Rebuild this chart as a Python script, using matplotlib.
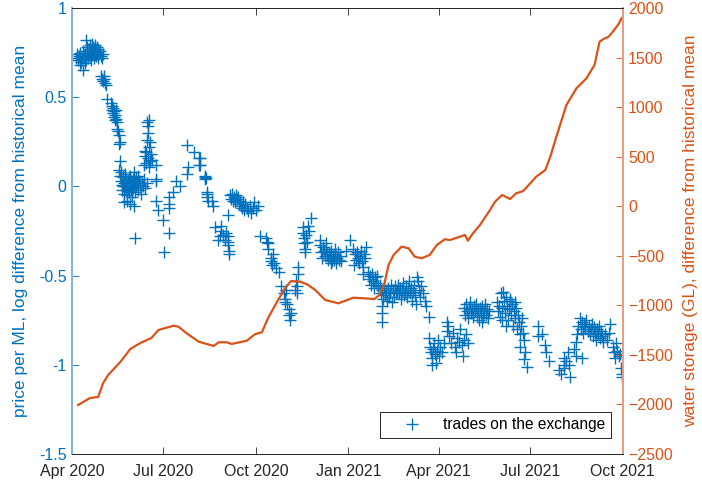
import numpy as np
import matplotlib
matplotlib.use("Agg")
import matplotlib.pyplot as plt
import matplotlib.dates as mdates

plt.rcParams['font.family'] = ['Liberation Sans', 'DejaVu Sans']

BLUE = '#0072BD'
ORANGE = '#D95319'
AXC = '#262626'

start = np.datetime64('2020-04-01')

# trades: days since 1 Apr 2020 and price (log difference from historical mean)
trade_day = [
    4, 5, 6, 7, 8, 9, 10, 11, 12, 13, 14, 14, 15, 15, 16, 17, 17, 18, 18, 19, 19, 20, 20, 21, 21, 22, 22,
    23, 23, 24, 24, 25, 25, 26, 26, 27, 28, 29, 11, 8, 13, 30, 31,
    29, 30, 31, 32, 33, 34, 32, 35,
    39, 40, 40, 41, 41, 42, 42, 43, 43, 44, 44, 45,
    45, 46, 47, 47, 48, 48,
    47, 48, 49, 49, 50, 50, 51, 51, 52, 52, 53, 53, 54, 54, 55, 55, 56, 56, 57, 57, 58, 58, 59, 59, 60, 60,
    61, 61, 62, 62, 63, 63, 64, 64, 65, 66, 66, 67, 68, 69, 70, 71, 72, 73, 75, 52, 55, 62, 58, 63,
    75, 76, 77, 76, 75, 77, 74, 73, 76, 78, 74, 77, 79, 80, 72, 73, 78,
    84, 84, 84, 84, 86, 91, 97, 92, 97, 97, 97, 100, 103, 107,
    114, 114, 121, 126, 126, 115, 132, 133, 134, 135,
    127, 127, 132, 132, 134, 134, 139, 140,
    157, 158, 159, 160, 161, 162, 163, 164, 166, 167, 168, 170, 171, 172, 174, 175, 177, 178, 180, 181,
    183, 185, 165, 169, 155,
    142, 148, 148, 147, 155, 155, 155, 156, 156, 150, 152, 153, 145,
    187, 193, 194, 195, 195, 198, 198, 199, 201, 206, 203, 200,
    208, 211, 212, 212, 216, 216, 217, 214, 218, 213,
    223, 224, 224, 225, 225, 222,
    230, 230, 231, 231, 232, 232, 235, 238, 233, 236, 234,
    247, 247, 248, 250, 251, 252, 253, 254, 255, 256, 257, 258, 259, 260, 261, 262, 263, 264, 265, 266,
    267, 268, 249, 253, 258, 262,
    277, 273, 280, 282, 283, 284, 285, 286, 287, 288, 289, 290, 291, 292, 293, 281, 290,
    295, 296, 297, 298, 299, 300, 301, 302, 303, 304, 305,
    306, 307, 308, 309, 310, 311, 312, 313, 314, 315, 316, 317, 318, 319, 320, 321, 322, 323,
    308, 308, 308,
    324, 325, 326, 327, 328, 329, 330, 331, 332, 333, 334, 335, 336, 337, 338, 339, 340, 341, 343, 344,
    345, 346, 347, 349, 351, 352, 342, 355,
    355, 356, 357, 358, 359, 360, 361, 362, 363, 364, 365, 366, 368, 370, 358,
    373, 373, 374,
    375, 377, 379, 381, 383, 385, 386, 388, 389, 390, 392, 394, 382,
    390, 391, 392, 393, 394, 395, 396, 397, 398, 399, 400, 401, 402, 403, 404, 405, 406, 407, 408, 409,
    410, 411, 412, 413, 414, 415, 408,
    423, 424, 425, 426, 427, 428, 429, 430, 431, 432, 433, 434, 435, 436, 437, 438, 439, 440, 441, 442,
    443, 444, 445, 446, 447, 448, 449, 450, 446, 451, 450, 453, 436, 441, 432, 428,
    464, 464, 468, 471, 472, 475,
    485, 490, 490, 490, 495, 496, 494, 500, 502, 508, 502, 503, 487, 492,
    504, 506, 507, 508, 509, 510, 511, 512, 513, 514, 515, 516, 517, 518, 519, 520, 521, 522, 523, 524,
    525, 526, 527, 528, 530, 532, 534, 535,
    538, 539, 540, 541, 542, 544, 546, 547, 547, 545,
]
trade_price = [
    0.72, 0.74, 0.71, 0.73, 0.75, 0.70, 0.72, 0.76, 0.73, 0.74, 0.82, 0.71, 0.75, 0.78, 0.72, 0.74, 0.77,
    0.73, 0.79, 0.76, 0.71, 0.74, 0.80, 0.75, 0.78, 0.72, 0.77, 0.74, 0.79, 0.76, 0.73, 0.78, 0.75, 0.72,
    0.77, 0.74, 0.76, 0.73, 0.65, 0.68, 0.69, 0.72, 0.74,
    0.62, 0.60, 0.59, 0.62, 0.58, 0.57, 0.60, 0.49,
    0.47, 0.45, 0.43, 0.44, 0.41, 0.42, 0.39, 0.40, 0.37, 0.38, 0.43, 0.36,
    0.32, 0.31, 0.29, 0.24, 0.25, 0.14,
    0.09, 0.06, 0.03, 0.08, 0.01, -0.02, 0.05, 0.00, 0.02, -0.04, 0.07, 0.00, -0.02, 0.04, 0.01, -0.05,
    0.03, -0.01, 0.05, -0.03, 0.00, 0.06, -0.02, 0.03, 0.01, -0.06,
    0.04, -0.01, 0.02, 0.08, -0.03, 0.03, 0.05, 0.00, 0.02, -0.02, 0.06, 0.03, 0.01, -0.04, 0.02, 0.00,
    0.04, -0.01, 0.02, -0.09, -0.08, -0.11, -0.10, -0.29,
    0.36, 0.34, 0.37, 0.30, 0.26, 0.22, 0.19, 0.17, 0.16, 0.14, 0.13, 0.11, 0.18, 0.15, 0.12, 0.20, 0.25,
    0.12, 0.04, 0.03, -0.08, -0.13, -0.19, -0.26, -0.37, -0.06, -0.10, -0.12, -0.03, 0.03, 0.00,
    0.07, 0.23, 0.19, 0.16, 0.12, 0.11, 0.055, 0.045, -0.04, -0.08,
    0.16, 0.12, 0.06, 0.04, -0.03, -0.06, -0.08, -0.11,
    -0.05, -0.07, -0.04, -0.08, -0.06, -0.09, -0.05, -0.07, -0.10, -0.08, -0.11, -0.09, -0.13, -0.10,
    -0.12, -0.14, -0.11, -0.15, -0.12, -0.09, -0.13, -0.11, -0.06, -0.12, -0.16,
    -0.23, -0.22, -0.25, -0.28, -0.28, -0.31, -0.33, -0.36, -0.38, -0.27, -0.30, -0.26, -0.30,
    -0.28, -0.29, -0.31, -0.32, -0.35, -0.40, -0.42, -0.44, -0.43, -0.48, -0.46, -0.38,
    -0.56, -0.60, -0.63, -0.65, -0.69, -0.72, -0.75, -0.66, -0.71, -0.58,
    -0.53, -0.56, -0.60, -0.45, -0.49, -0.58,
    -0.23, -0.26, -0.29, -0.32, -0.35, -0.37, -0.22, -0.18, -0.27, -0.25, -0.31,
    -0.30, -0.33, -0.37, -0.34, -0.36, -0.39, -0.35, -0.38, -0.41, -0.37, -0.40, -0.36, -0.42, -0.39,
    -0.41, -0.38, -0.43, -0.40, -0.37, -0.41, -0.39, -0.42, -0.40, -0.32, -0.43, -0.35,
    -0.30, -0.36, -0.35, -0.38, -0.41, -0.37, -0.40, -0.43, -0.39, -0.36, -0.42, -0.45, -0.38, -0.40,
    -0.34, -0.44, -0.49,
    -0.48, -0.52, -0.50, -0.55, -0.49, -0.53, -0.57, -0.51, -0.54, -0.50, -0.56,
    -0.55, -0.60, -0.58, -0.63, -0.56, -0.61, -0.59, -0.64, -0.57, -0.62, -0.60, -0.55, -0.65, -0.58,
    -0.62, -0.56, -0.60, -0.59,
    -0.67, -0.71, -0.76,
    -0.55, -0.60, -0.57, -0.63, -0.58, -0.54, -0.61, -0.59, -0.56, -0.62, -0.58, -0.53, -0.60, -0.57,
    -0.64, -0.59, -0.55, -0.61, -0.51, -0.53, -0.58, -0.62, -0.56, -0.60, -0.64, -0.67, -0.66, -0.73,
    -0.85, -0.90, -0.93, -0.96, -0.91, -0.88, -0.94, -0.99, -0.92, -0.86, -0.95, -0.90, -0.93, -0.88, -1.00,
    -0.76, -0.81, -0.78,
    -0.84, -0.88, -0.82, -0.90, -0.85, -0.87, -0.80, -0.89, -0.95, -0.86, -0.83, -0.88, -0.93,
    -0.68, -0.72, -0.66, -0.70, -0.74, -0.68, -0.65, -0.71, -0.69, -0.73, -0.67, -0.70, -0.66, -0.72,
    -0.69, -0.75, -0.68, -0.71, -0.67, -0.73, -0.70, -0.66, -0.72, -0.69, -0.74, -0.70, -0.76,
    -0.65, -0.70, -0.67, -0.73, -0.60, -0.68, -0.59, -0.64, -0.71, -0.62, -0.67, -0.75, -0.69, -0.64,
    -0.72, -0.66, -0.78, -0.70, -0.74, -0.68, -0.80, -0.72, -0.76, -0.83, -0.78, -0.74, -0.82, -0.86,
    -0.90, -0.93, -0.97, -1.01, -0.63, -0.65, -0.78, -0.75,
    -0.78, -0.84, -0.83, -0.89, -0.93, -0.98,
    -1.03, -0.96, -1.00, -1.02, -1.00, -1.07, -0.93, -0.91, -0.95, -0.96, -0.87, -0.83, -1.05, -0.98,
    -0.78, -0.74, -0.80, -0.76, -0.82, -0.77, -0.79, -0.75, -0.81, -0.78, -0.83, -0.80, -0.77, -0.84,
    -0.79, -0.82, -0.86, -0.80, -0.83, -0.78, -0.85, -0.81, -0.84, -0.87, -0.83, -0.86, -0.82, -0.77,
    -0.90, -0.93, -0.96, -0.88, -0.92, -0.95, -1.02, -1.05, -1.07, -0.94,
]

# water storage: days since 1 Apr 2020 and GL difference from historical mean
storage_day = [
    6, 18, 26, 31, 36, 48, 58, 68, 79, 86, 101, 106, 114, 126, 141, 146, 154, 159, 174, 182, 189,
    195, 205, 212, 218, 227, 234, 242, 252, 265, 280, 301, 306, 311, 315, 320, 328, 335, 341, 348,
    356, 363, 371, 376, 386, 391, 394, 399, 406, 416, 421, 428, 436, 442, 449, 462, 471, 476, 482,
    492, 502, 512, 520, 525, 529, 534, 539, 544, 547,
]
storage_gl = [
    -2006, -1935, -1925, -1784, -1703, -1572, -1441, -1380, -1330, -1249, -1206, -1216, -1282, -1367,
    -1410, -1373, -1373, -1390, -1357, -1292, -1272, -1131, -946, -828, -755, -762, -788, -845, -946,
    -980, -923, -936, -896, -778, -593, -492, -408, -425, -509, -525, -492, -391, -334, -341, -308,
    -290, -348, -273, -190, -38, 46, 113, 73, 130, 153, 298, 365, 500, 701, 1021, 1190, 1291, 1425,
    1660, 1687, 1710, 1771, 1839, 1899,
]

x_ticks = ['2020-04-01', '2020-07-01', '2020-10-01', '2021-01-01', '2021-04-01', '2021-07-01', '2021-10-01']
x_tick_labels = ['Apr 2020', 'Jul 2020', 'Oct 2020', 'Jan 2021', 'Apr 2021', 'Jul 2021', 'Oct 2021']

trade_dates = start + np.array(trade_day).astype('timedelta64[D]')
storage_dates = start + np.array(storage_day).astype('timedelta64[D]')

fig = plt.figure(figsize=(7.02, 4.87), dpi=100)
ax = fig.add_axes([0.1026, 0.0678, 0.7844, 0.9158])
ax2 = ax.twinx()

ax.plot(trade_dates, trade_price, linestyle='none', marker='+', markersize=8,
        markeredgewidth=1.0, color=BLUE, label='trades on the exchange')
ax2.plot(storage_dates, storage_gl, color=ORANGE, linewidth=1.6)

ax.set_xlim(np.datetime64('2020-04-01'), np.datetime64('2021-10-01'))
ax.set_ylim(-1.5, 1)
ax2.set_ylim(-2500, 2000)

ax.set_xticks(np.array(x_ticks, dtype='datetime64[D]'))
ax.set_xticklabels(x_tick_labels)
ax.set_yticks([-1.5, -1, -0.5, 0, 0.5, 1])
ax.set_yticklabels(['-1.5', '-1', '-0.5', '0', '0.5', '1'])
ax2.set_yticks(np.arange(-2500, 2001, 500))

ax.tick_params(axis='x', direction='in', top=True, colors=AXC, labelsize=11.5, length=5, width=0.6, pad=7)
ax.tick_params(axis='y', direction='in', colors=BLUE, labelsize=11.5, length=5, width=0.6, pad=4)
ax2.tick_params(axis='y', direction='in', colors=ORANGE, labelsize=11.5, length=5, width=0.6, pad=4)

for a in (ax, ax2):
    a.spines['top'].set_color(AXC)
    a.spines['bottom'].set_color(AXC)
    a.spines['top'].set_linewidth(0.7)
    a.spines['bottom'].set_linewidth(0.7)
    a.spines['left'].set_color('#7fb4dc')
    a.spines['right'].set_color('#ec9c7a')
    a.spines['left'].set_linewidth(1.4)
    a.spines['right'].set_linewidth(1.4)

ax.set_ylabel('price per ML, log difference from historical mean', color=BLUE, fontsize=12.5, labelpad=8)
ax2.set_ylabel('water storage (GL), difference from historical mean', color=ORANGE, fontsize=12.5, labelpad=7)

leg = ax.legend(loc='lower right', bbox_to_anchor=(0.979, 0.036), fontsize=11.2, frameon=True,
                fancybox=False, edgecolor=AXC, framealpha=1, borderpad=0.35, handlelength=3.4,
                handletextpad=0.35, borderaxespad=0)
leg.get_frame().set_linewidth(0.7)
leg.set_zorder(5)

fig.savefig('out.png', dpi=100)
